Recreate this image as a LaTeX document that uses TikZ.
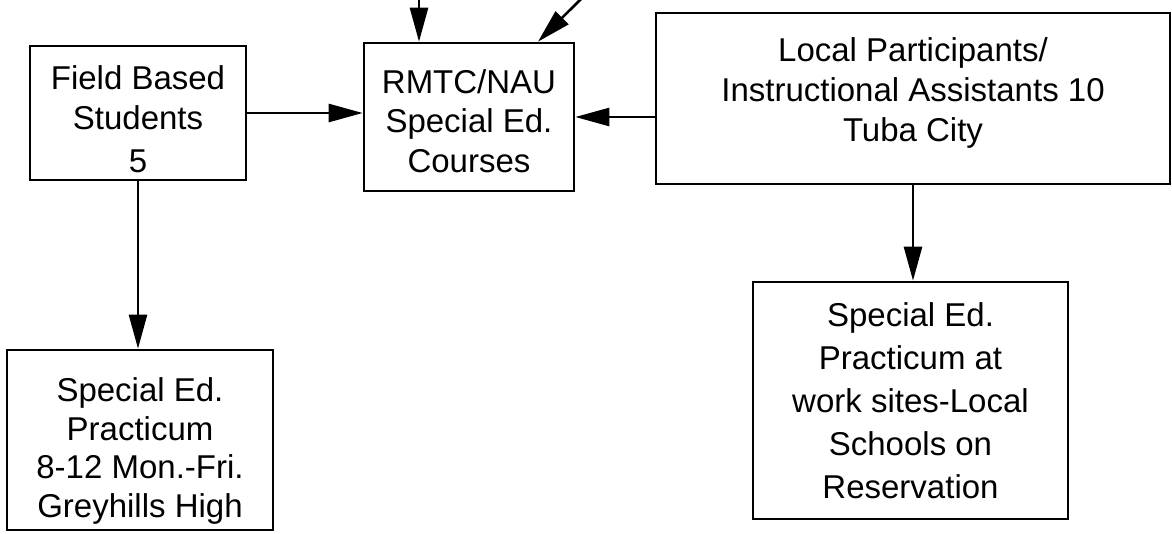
\documentclass[tikz,border=0pt]{standalone}
\usepackage{fontspec}
\setmainfont{Liberation Sans}
\usetikzlibrary{arrows.meta,calc}
\newcommand{\boxtext}[3]{\fontsize{33}{#2}\selectfont\raisebox{#1}[\height][\depth]{\begin{tabular}{@{}c@{}}#3\end{tabular}}}
\tikzset{
  box/.style={draw,line width=2.6pt,inner sep=0pt},
  arr/.style={line width=2.6pt,-{Triangle[length=34pt,width=18pt]}}
}
\begin{document}
\begin{tikzpicture}[x=1pt,y=-1pt]
\useasboundingbox (0,0) rectangle (1172,534);
\node[box,minimum width=216pt,minimum height=134pt] (field) at (138,113)
  {\boxtext{-10pt}{40}{Field Based\\Students\\[3pt]5}};
\node[box,minimum width=210pt,minimum height=148pt] (rmtc) at (469,117)
  {\boxtext{-8pt}{39.5}{RMTC/NAU\\Special Ed.\\Courses}};
\node[box,minimum width=514pt,minimum height=171pt] (local) at (913,98.5)
  {\boxtext{5pt}{40}{Local Participants/\\Instructional Assistants 10\\Tuba City}};
\node[box,minimum width=266pt,minimum height=180pt] (bl) at (140,440)
  {\boxtext{-12pt}{38.5}{Special Ed.\\Practicum\\8-12 Mon.-Fri.\\Greyhills High}};
\node[box,minimum width=315pt,minimum height=237pt] (br) at (910.5,400.5)
  {\boxtext{-3pt}{43}{Special Ed.\\Practicum at\\work sites-Local\\Schools on\\Reservation}};
\coordinate (t1) at (419,-3);
\coordinate (t2) at (584,-4);
\coordinate (t2e) at ($(rmtc.north)+(69,0)$);
\draw[arr] (field.east) -- (field.east -| rmtc.west);
\draw[arr] (rmtc.east -| local.west) -- (rmtc.east);
\draw[arr] (field.south) -- (field.south |- bl.north);
\draw[arr] (local.south) -- (local.south |- br.north);
\draw[arr] (t1) -- (t1 |- rmtc.north);
\draw[arr] (t2) -- (t2e);
\end{tikzpicture}
\end{document}
